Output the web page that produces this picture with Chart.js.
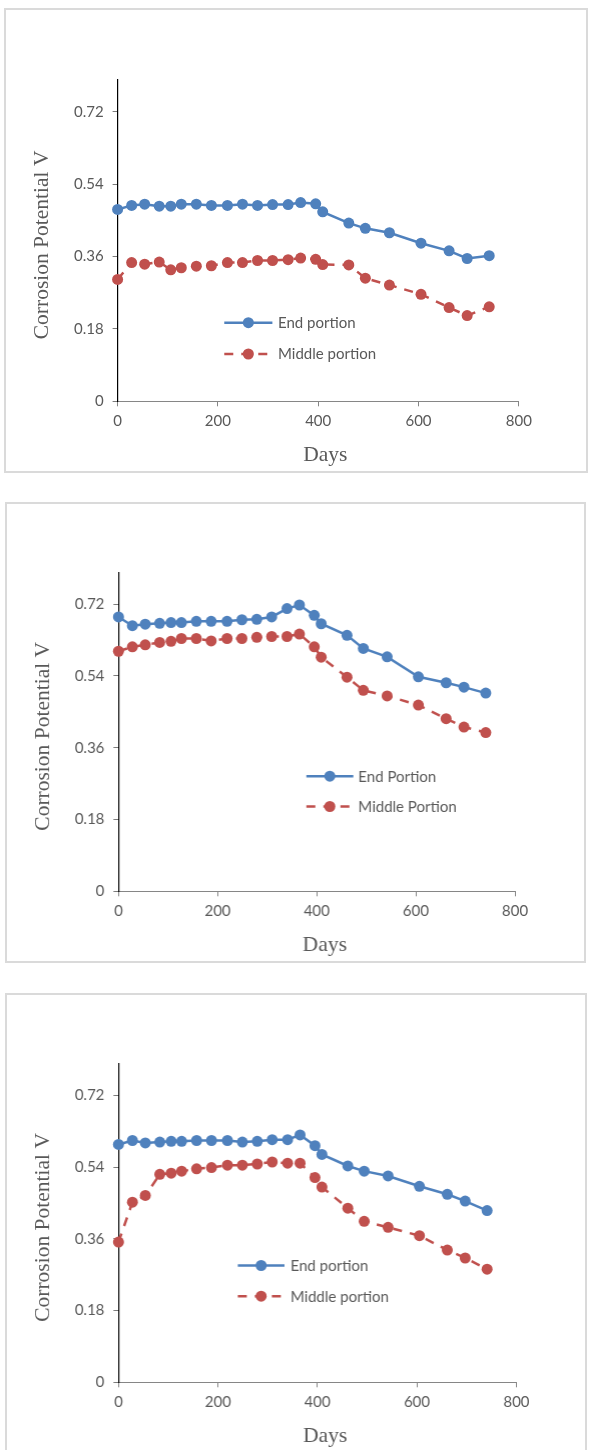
<!DOCTYPE html>
<html>
<head>
<meta charset="utf-8">
<script src="https://cdn.jsdelivr.net/npm/chart.js@4.4.0/dist/chart.umd.min.js"></script>
<style>
  html, body { margin: 0; padding: 0; background: #ffffff; }
  body { width: 589px; height: 1450px; overflow: hidden; position: relative; }
  .frame { position: absolute; box-sizing: border-box; border: 2px solid #dadada; background: #ffffff; }
  canvas { position: absolute; }
</style>
</head>
<body>
<script>
// Exposure time (days) shared by every panel
const days = [0, 28, 54, 83, 106, 127, 157, 187, 219, 249, 279, 309, 340, 365, 395, 409, 461, 494, 542, 605, 661, 697, 741];

// Panel 1
const endPortion1    = [0.477, 0.487, 0.490, 0.485, 0.485, 0.490, 0.490, 0.487, 0.487, 0.490, 0.487, 0.489, 0.489, 0.494, 0.491, 0.471, 0.443, 0.430, 0.419, 0.393, 0.374, 0.355, 0.362];
const middlePortion1 = [0.303, 0.345, 0.341, 0.346, 0.327, 0.332, 0.336, 0.337, 0.345, 0.345, 0.350, 0.350, 0.352, 0.356, 0.353, 0.340, 0.339, 0.306, 0.289, 0.266, 0.233, 0.213, 0.235];

// Panel 2
const endPortion2    = [0.688, 0.666, 0.670, 0.672, 0.674, 0.674, 0.677, 0.677, 0.677, 0.681, 0.682, 0.688, 0.709, 0.718, 0.692, 0.671, 0.642, 0.609, 0.588, 0.538, 0.523, 0.512, 0.497];
const middlePortion2 = [0.602, 0.613, 0.618, 0.624, 0.627, 0.634, 0.634, 0.628, 0.634, 0.634, 0.637, 0.639, 0.639, 0.645, 0.613, 0.587, 0.537, 0.504, 0.490, 0.467, 0.433, 0.412, 0.398];

// Panel 3
const endPortion3    = [0.597, 0.607, 0.601, 0.603, 0.605, 0.605, 0.607, 0.607, 0.607, 0.603, 0.605, 0.609, 0.609, 0.621, 0.594, 0.572, 0.543, 0.530, 0.518, 0.492, 0.472, 0.455, 0.431];
const middlePortion3 = [0.352, 0.452, 0.469, 0.522, 0.525, 0.530, 0.536, 0.539, 0.545, 0.545, 0.548, 0.553, 0.550, 0.550, 0.514, 0.490, 0.437, 0.404, 0.389, 0.368, 0.332, 0.312, 0.284];

// Axis ticks and text
const xTickValues = [0, 200, 400, 600, 800];
const yTickValues = [0, 0.18, 0.36, 0.54, 0.72];
const labelsLower = ['End portion', 'Middle portion'];
const labelsUpper = ['End Portion', 'Middle Portion'];
const yAxisTitle = 'Corrosion Potential V';
const xAxisTitle = 'Days';

const BLUE = '#4f81bd';
const RED = '#c0504d';
const TEXT = '#595959';
const DASH = [9, 8];
const MARKER = 5.5;

// Page layout of the three framed panels (page pixels)
const panels = [
  { end: endPortion1, mid: middlePortion1, names: labelsLower,
    box: { l: 4, t: 8, r: 588, b: 473 },
    plot: { l: 117.6, t: 79.5, r: 518.8, b: 401.3 },
    legend: { x0: 224.3, x1: 272.4, tx: 278, y1: 322.7, y2: 354 },
    yTitleX: 41.3, xTitleX: 325.3 },
  { end: endPortion2, mid: middlePortion2, names: labelsUpper,
    box: { l: 5.4, t: 501.5, r: 586.3, b: 963 },
    plot: { l: 118.7, t: 571.8, r: 515.4, b: 891.3 },
    legend: { x0: 306.2, x1: 353.1, tx: 358, y1: 775.7, y2: 806 },
    yTitleX: 42, xTitleX: 324.6 },
  { end: endPortion3, mid: middlePortion3, names: labelsLower,
    box: { l: 5.4, t: 992.5, r: 587, b: 1458 },
    plot: { l: 118.7, t: 1063.1, r: 516.5, b: 1382.3 },
    legend: { x0: 237.8, x1: 284.4, tx: 290.4, y1: 1265, y2: 1295.7 },
    yTitleX: 42.2, xTitleX: 325 }
];

// Axis titles and the in-plot legend
const decorations = {
  id: 'decorations',
  afterDraw(chart, args, o) {
    const ctx = chart.ctx;
    const a = chart.chartArea;
    ctx.save();
    ctx.fillStyle = TEXT;

    // vertical axis title
    ctx.font = '21.5px "Liberation Serif", "Times New Roman", serif';
    ctx.textAlign = 'center';
    ctx.textBaseline = 'alphabetic';
    ctx.save();
    ctx.translate(o.yTitleX, (a.top + a.bottom) / 2 + 4.5);
    ctx.rotate(-Math.PI / 2);
    ctx.fillText(yAxisTitle, 0, 7.1);
    ctx.restore();

    // horizontal axis title
    ctx.fillText(xAxisTitle, o.xTitleX, a.bottom + 59.5);

    // legend
    const lg = o.legend;
    const rows = [
      { y: lg.y1, color: BLUE, dash: [], text: o.names[0] },
      { y: lg.y2, color: RED, dash: DASH, text: o.names[1] }
    ];
    ctx.font = '15px Lato, "Open Sans", sans-serif';
    ctx.textAlign = 'left';
    rows.forEach(r => {
      ctx.save();
      ctx.strokeStyle = r.color;
      ctx.lineWidth = 2.5;
      ctx.setLineDash(r.dash);
      ctx.beginPath();
      ctx.moveTo(lg.x0, r.y);
      ctx.lineTo(lg.x1, r.y);
      ctx.stroke();
      ctx.setLineDash([]);
      ctx.fillStyle = r.color;
      ctx.beginPath();
      ctx.arc((lg.x0 + lg.x1) / 2, r.y, MARKER, 0, Math.PI * 2);
      ctx.fill();
      ctx.restore();
      ctx.fillStyle = TEXT;
      ctx.fillText(r.text, lg.tx, r.y + 5.4);
    });
    ctx.restore();
  }
};

function series(values) {
  return days.map((d, i) => ({ x: d, y: values[i] }));
}

panels.forEach(p => {
  const W = p.box.r - p.box.l;
  const H = p.box.b - p.box.t;

  const frame = document.createElement('div');
  frame.className = 'frame';
  Object.assign(frame.style, { left: p.box.l + 'px', top: p.box.t + 'px', width: W + 'px', height: H + 'px' });
  document.body.appendChild(frame);

  const cv = document.createElement('canvas');
  cv.width = W; cv.height = H;
  Object.assign(cv.style, { left: p.box.l + 'px', top: p.box.t + 'px', width: W + 'px', height: H + 'px' });
  document.body.appendChild(cv);

  // plot rectangle inside the canvas
  const pl = p.plot.l - p.box.l;
  const pr = p.plot.r - p.box.l;
  const pt = p.plot.t - p.box.t;
  const pb = p.plot.b - p.box.t;

  const tickFont = { family: 'Lato', size: 15 };

  new Chart(cv, {
    type: 'line',
    data: {
      datasets: [
        { label: p.names[0], data: series(p.end),
          borderColor: BLUE, backgroundColor: BLUE, borderWidth: 2.5,
          pointRadius: MARKER, pointBackgroundColor: BLUE, pointBorderColor: BLUE, pointBorderWidth: 0,
          tension: 0, clip: false },
        { label: p.names[1], data: series(p.mid),
          borderColor: RED, backgroundColor: RED, borderWidth: 2.5, borderDash: DASH,
          pointRadius: MARKER, pointBackgroundColor: RED, pointBorderColor: RED, pointBorderWidth: 0,
          tension: 0, clip: false }
      ]
    },
    options: {
      responsive: false,
      animation: false,
      devicePixelRatio: 1,
      events: [],
      layout: { padding: { left: 0, top: pt, right: W - pr, bottom: 0 } },
      plugins: {
        legend: { display: false },
        tooltip: { enabled: false },
        decorations: {
          names: p.names,
          yTitleX: p.yTitleX - p.box.l,
          xTitleX: p.xTitleX - p.box.l,
          legend: {
            x0: p.legend.x0 - p.box.l, x1: p.legend.x1 - p.box.l, tx: p.legend.tx - p.box.l,
            y1: p.legend.y1 - p.box.t, y2: p.legend.y2 - p.box.t
          }
        }
      },
      scales: {
        x: {
          type: 'linear', min: 0, max: 800,
          afterBuildTicks: s => { s.ticks = xTickValues.map(v => ({ value: v })); },
          afterFit: s => { s.height = H - pb; },
          border: { display: true, color: '#868686', width: 1 },
          grid: { display: true, drawOnChartArea: false, drawTicks: true, tickLength: 5, tickColor: '#868686' },
          ticks: { color: TEXT, font: tickFont, padding: 6, maxRotation: 0, autoSkip: false }
        },
        y: {
          type: 'linear', min: 0, max: 0.8,
          afterBuildTicks: s => { s.ticks = yTickValues.map(v => ({ value: v })); },
          afterFit: s => { s.width = pl; },
          border: { display: true, color: '#000000', width: 1.2 },
          grid: { display: true, drawOnChartArea: false, drawTicks: true, tickLength: 5, tickColor: '#7a7a7a' },
          ticks: { color: TEXT, font: tickFont, padding: 9, autoSkip: false,
                   callback: v => String(Number(v.toFixed(2))) }
        }
      }
    },
    plugins: [decorations]
  });
});
</script>
</body>
</html>
